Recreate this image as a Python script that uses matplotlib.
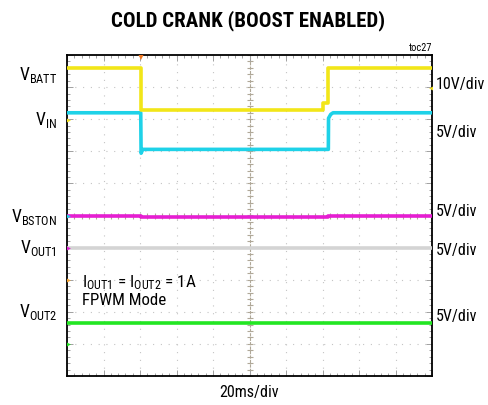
import numpy as np
import matplotlib
matplotlib.use("Agg")
import matplotlib.pyplot as plt
from matplotlib import font_manager
from matplotlib.ticker import MultipleLocator

# pick a narrow font (the scope shots use Arial Narrow)
names = {f.name for f in font_manager.fontManager.ttflist}
narrow = "Liberation Sans"
for cand in ["Liberation Sans Narrow", "Arial Narrow", "Roboto Condensed",
             "PT Sans Narrow", "Archivo Narrow"]:
    if cand in names:
        narrow = cand
        break
plt.rcParams["font.family"] = [narrow, "DejaVu Sans"]
plt.rcParams["mathtext.fontset"] = "custom"
plt.rcParams["mathtext.rm"] = narrow
plt.rcParams["mathtext.it"] = narrow
plt.rcParams["mathtext.bf"] = narrow + ":bold"

# time in ms (20ms/div), level in screen divisions (0 = centre)
t_batt = [-100, -59.6, -59.6, 40.1, 40.1, 43.2, 43.2, 100]
v_batt = [4.58, 4.58, 3.28, 3.28, 3.49, 3.49, 4.58, 4.58]

t_vin = [-100, -59.6, -59.4, -58.5, 43.2, 43.3, 44.5, 45.8, 100]
v_vin = [3.2, 3.2, 1.94, 2.06, 2.06, 3.03, 3.15, 3.2, 3.2]

t_bston = [-100, -59.6, -59.6, 43.2, 43.2, 100]
v_bston = [0.0, 0.0, -0.05, -0.05, 0.0, 0.0]

t_out1 = [-100, 100]
v_out1 = [-1.0, -1.0]

t_out2 = [-100, 100]
v_out2 = [-3.34, -3.34]

# channel ground markers on the left edge
gnd_levels = [2.97, 0.0, -1.0, -2.0, -4.0]
gnd_colors = ["#f0e020", "#20d0e8", "#e020d0", "#f0a030", "#20e020"]

fig = plt.figure(figsize=(4.88, 4.05), dpi=100)
ax = fig.add_axes([67 / 488, 1 - 376 / 405, 365 / 488, 321 / 405])
ax.set_xlim(-100, 100)
ax.set_ylim(-5, 5)

# dotted graticule
for gx in np.arange(-80, 100, 20):
    if gx != 0:
        ax.axvline(gx, color="#c4c4c4", lw=0.8, ls=(0, (1, 6)), zorder=1)
for gy in np.arange(-4, 5, 1):
    if gy != 0:
        ax.axhline(gy, color="#c4c4c4", lw=0.8, ls=(0, (1, 6)), zorder=1)
ax.axvline(0, color="#b0a898", lw=0.8, ls=(0, (3, 1)), zorder=1)
ax.axhline(0, color="#b0a898", lw=0.8, ls=(0, (3, 1)), zorder=1)
yt = np.arange(-5, 5.01, 0.2)
xt = np.arange(-100, 100.1, 4)
ax.plot(np.zeros(len(yt)), yt, ls="none", marker="_", ms=4, mew=0.8, color="#b0a898", zorder=1)
ax.plot(xt, np.zeros(len(xt)), ls="none", marker="|", ms=4, mew=0.8, color="#b0a898", zorder=1)

ax.xaxis.set_major_locator(MultipleLocator(20))
ax.xaxis.set_minor_locator(MultipleLocator(4))
ax.yaxis.set_major_locator(MultipleLocator(1))
ax.yaxis.set_minor_locator(MultipleLocator(0.2))
ax.tick_params(which="both", direction="in", top=True, right=True,
               labelbottom=False, labelleft=False, color="#a0a0a0", width=0.7)
ax.tick_params(which="major", length=4)
ax.tick_params(which="minor", length=2.5)
for s in ax.spines.values():
    s.set_linewidth(1.3)

ax.plot(t_out1, v_out1, color="#d4d4d4", lw=2.6, zorder=3)
ax.plot(t_out2, v_out2, color="#22e622", lw=2.6, zorder=3)
ax.plot(t_bston, v_bston, color="#e61ed2", lw=2.6, zorder=3)
ax.plot(t_vin, v_vin, color="#1ed2e8", lw=2.6, zorder=4)
ax.plot(t_batt, v_batt, color="#f2e618", lw=2.6, zorder=5)

for lv, c in zip(gnd_levels, gnd_colors):
    ax.plot([-99.5], [lv], ls="none", marker=">", ms=3.5, mew=0, color=c, zorder=6)
ax.plot([-59.6], [4.93], ls="none", marker="v", ms=4, mew=0, color="#f07820", zorder=6)
ax.plot([99.5], [3.98], ls="none", marker="<", ms=3.5, mew=0, color="#f0e020", zorder=6)

fig.text(248 / 488, 1 - 21 / 405, "COLD CRANK (BOOST ENABLED)", ha="center", va="center",
         fontsize=15, fontweight="bold")
fig.text(432 / 488, 1 - 48 / 405, "toc27", ha="right", va="center", fontsize=7.5)
fig.text(249 / 488, 1 - 393 / 405, "20ms/div", ha="center", va="center", fontsize=11.5)

left_labels = [r"V$_{\mathrm{BATT}}$", r"V$_{\mathrm{IN}}$", r"V$_{\mathrm{BSTON}}$",
               r"V$_{\mathrm{OUT1}}$", r"V$_{\mathrm{OUT2}}$"]
left_y = [80, 125, 222, 253, 317]
for lab, y in zip(left_labels, left_y):
    fig.text(57 / 488, 1 - y / 405, lab, ha="right", va="baseline", fontsize=12.7)

right_labels = ["10V/div", "5V/div", "5V/div", "5V/div", "5V/div"]
right_y = [85, 133, 211, 250, 317]
for lab, y in zip(right_labels, right_y):
    fig.text(436 / 488, 1 - y / 405, lab, ha="left", va="center", fontsize=11.5)

fig.text(82 / 488, 1 - 287 / 405, r"I$_{\mathrm{OUT1}}$ = I$_{\mathrm{OUT2}}$ = 1A",
         ha="left", va="baseline", fontsize=12.4)
fig.text(82 / 488, 1 - 305 / 405, "FPWM Mode", ha="left", va="baseline", fontsize=12.2)

fig.savefig("out.png", dpi=100)
